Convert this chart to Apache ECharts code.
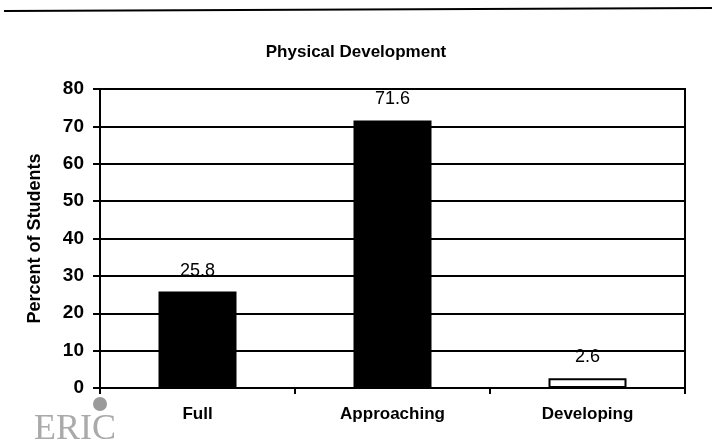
<!DOCTYPE html>
<html>
<head>
<meta charset="utf-8">
<script src="https://cdn.jsdelivr.net/npm/echarts@6/dist/echarts.min.js"></script>
<style>
  html, body { margin: 0; padding: 0; background: #fff; }
  #chart { width: 712px; height: 442px; }
</style>
</head>
<body>
<div id="chart"></div>
<script>
// data
var categories = ['Full', 'Approaching', 'Developing'];
var percents = [25.8, 71.6, 2.6];
var barFills = ['#000', '#000', '#fff'];
var yTicks = [0, 10, 20, 30, 40, 50, 60, 70, 80];

var chart = echarts.init(document.getElementById('chart'));
var font = '"Liberation Sans", Arial, sans-serif';

var barData = [];
for (var i = 0; i < percents.length; i++) {
  barData.push({
    value: percents[i],
    itemStyle: { color: barFills[i], borderColor: '#000', borderWidth: 2 }
  });
}

chart.setOption({
  backgroundColor: '#fff',
  animation: false,
  title: {
    text: 'Physical Development',
    left: 'center',
    top: 39,
    textStyle: { fontFamily: font, fontSize: 17, fontWeight: 'bold', color: '#000' }
  },
  grid: { left: 100, right: 27, top: 89, bottom: 54, show: true, borderColor: '#000', borderWidth: 2 },
  xAxis: {
    type: 'category',
    data: categories,
    axisLine: { lineStyle: { color: '#000', width: 2 } },
    axisTick: { show: true, length: 6, lineStyle: { color: '#000', width: 2 } },
    axisLabel: { fontFamily: font, fontSize: 17, fontWeight: 'bold', color: '#000', margin: 18 }
  },
  yAxis: {
    type: 'value',
    min: yTicks[0],
    max: yTicks[yTicks.length - 1],
    interval: yTicks[1] - yTicks[0],
    name: 'Percent of Students',
    nameLocation: 'middle',
    nameGap: 56,
    nameTextStyle: { fontFamily: font, fontSize: 18, fontWeight: 'bold', color: '#000' },
    axisLine: { show: true, lineStyle: { color: '#000', width: 2 } },
    axisTick: { show: true, length: 7, lineStyle: { color: '#000', width: 2 } },
    axisLabel: { fontFamily: font, fontSize: 19, fontWeight: 'bold', color: '#000', margin: 16 },
    splitLine: { lineStyle: { color: '#000', width: 2 } }
  },
  series: [{
    type: 'bar',
    data: barData,
    barWidth: '40%',
    label: {
      show: true,
      position: 'top',
      distance: 12,
      fontFamily: font,
      fontSize: 18,
      color: '#000'
    }
  }],
  graphic: [
    { type: 'line', shape: { x1: 4, y1: 11, x2: 712, y2: 8 }, style: { stroke: '#000', lineWidth: 2 } },
    { type: 'circle', shape: { cx: 100, cy: 404, r: 7 }, style: { fill: '#9a9a9a' } },
    { type: 'text', left: 34, top: 412, style: { text: 'ERIC', fontFamily: '"Liberation Serif", serif', fontSize: 36, fill: '#aaa' } }
  ]
});
</script>
</body>
</html>
